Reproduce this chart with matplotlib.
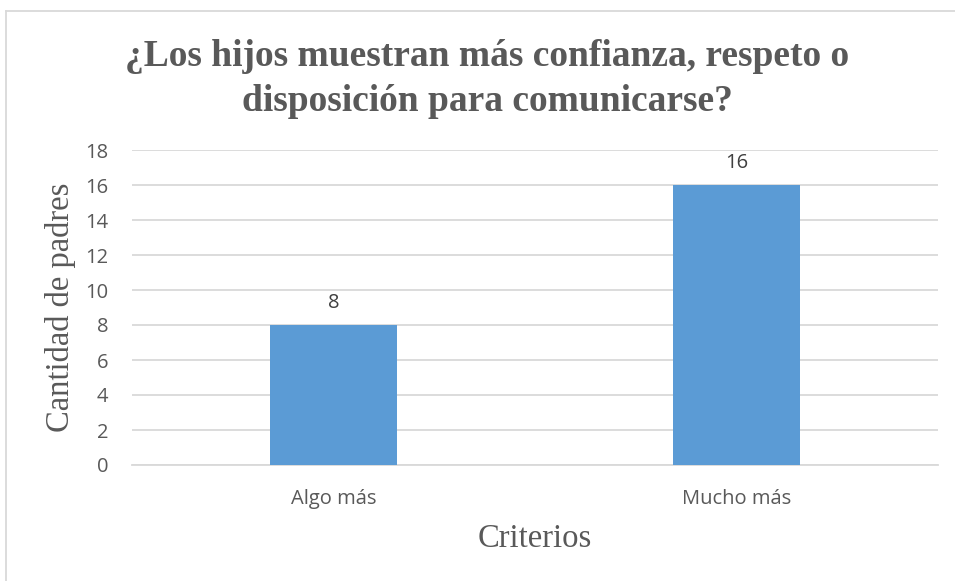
import matplotlib.pyplot as plt
from matplotlib.lines import Line2D

categorias = ['Algo más', 'Mucho más']
valores = [8, 16]
ticks_y = [0, 2, 4, 6, 8, 10, 12, 14, 16, 18]

gris = '#595959'
azul = '#5B9BD5'

fig = plt.figure(figsize=(9.55, 5.81), dpi=100)
ax = fig.add_axes([132/955, 116/581, 806/955, 315/581])

x = range(len(categorias))
ax.bar(x, valores, width=0.315, color=azul, zorder=3)
for xi, v in zip(x, valores):
    ax.text(xi, v + 0.68, str(v), ha='center', va='bottom', fontsize=14.5,
            color='#404040', family='Open Sans')

ax.set_xlim(-0.5, len(categorias) - 0.5)
ax.set_ylim(0, 18)
ax.set_yticks(ticks_y)
ax.set_xticks(list(x))
ax.set_xticklabels(categorias)
ax.grid(axis='y', color='#D9D9D9', linewidth=1.3, zorder=0)
for s in ['top', 'right', 'left']:
    ax.spines[s].set_visible(False)
ax.spines['bottom'].set_color('#D9D9D9')
ax.spines['bottom'].set_linewidth(1.3)
ax.tick_params(axis='both', length=0, labelsize=14.5, labelcolor=gris)
ax.tick_params(axis='y', pad=17)
ax.tick_params(axis='x', pad=17)
for lb in ax.get_xticklabels() + ax.get_yticklabels():
    lb.set_family('Open Sans')

ax.set_ylabel('Cantidad de padres', fontsize=23.5, color=gris,
              family='Liberation Serif', labelpad=7)
ax.set_xlabel('Criterios', fontsize=23.5, color=gris,
              family='Liberation Serif', labelpad=11)

fig.text(0.510, 0.864, '¿Los hijos muestran más confianza, respeto o\ndisposición para comunicarse?',
         ha='center', va='center', fontsize=27, fontweight='bold', color=gris,
         family='Liberation Serif', linespacing=1.38)

# borde del gráfico
fig.add_artist(Line2D([6/955, 6/955], [0, 1 - 11/581], color='#D9D9D9', lw=1.3))
fig.add_artist(Line2D([6/955, 1], [1 - 11/581, 1 - 11/581], color='#D9D9D9', lw=1.3))

fig.savefig('out.png', dpi=100)
